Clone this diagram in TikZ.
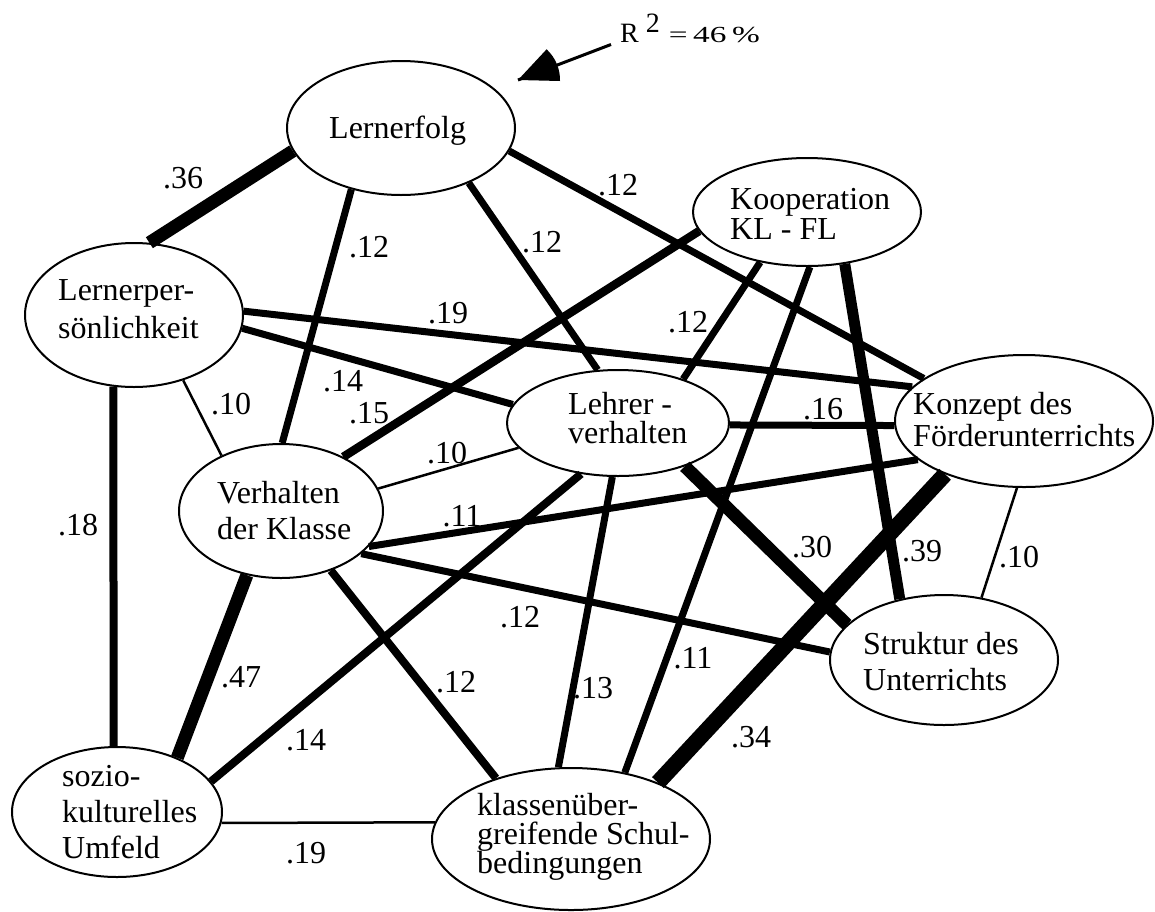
\documentclass[tikz,border=0pt]{standalone}
\usepackage{fontspec}
\usepackage{graphicx}
\setmainfont{Liberation Serif}
\usetikzlibrary{shapes.geometric}
\lineskiplimit=-50pt

\tikzset{
    var/.style={draw, ellipse, line width=2pt, inner sep=0pt},
    vartext/.style={font=\fontsize{32}{#1}\selectfont, align=left, inner sep=0pt, anchor=base west},
    weight/.style={font=\fontsize{32}{32}\selectfont, inner sep=0pt},
    weak/.style={line width=2.5pt},
    mid/.style={line width=7pt},
    strong/.style={line width=13pt},
}

\begin{document}
\begin{tikzpicture}[x=1pt, y=-1pt]
    \useasboundingbox (0,0) rectangle (1155,911);

    % ellipses
    \node[var, minimum width=228pt, minimum height=134pt] (erfolg) at (401,128) {};
    \node[var, minimum width=228pt, minimum height=108pt] (koop) at (807,212) {};
    \node[var, minimum width=218pt, minimum height=144pt] (pers) at (134,315) {};
    \node[var, minimum width=222pt, minimum height=106pt] (lehrer) at (618,423) {};
    \node[var, minimum width=258pt, minimum height=132pt] (konzept) at (1024,421) {};
    \node[var, minimum width=204pt, minimum height=134pt] (klasse) at (281,511) {};
    \node[var, minimum width=228pt, minimum height=130pt] (struktur) at (944,660) {};
    \node[var, minimum width=210pt, minimum height=130pt] (sozio) at (117,812) {};
    \node[var, minimum width=278pt, minimum height=142pt] (schul) at (571,839) {};

    % texts
    \node[vartext=32] (erfolg-t) at (329,138) {Lernerfolg};
    \node[vartext=30] (koop-t) at (730,239) {Kooperation\\KL - FL};
    \node[vartext=38] (pers-t) at (58,338) {Lernerper-\\sönlichkeit};
    \node[vartext=29] (lehrer-t) at (568,443) {Lehrer -\\verhalten};
    \node[vartext=32] (konzept-t) at (913,446) {Konzept des\\Förderunterrichts};
    \node[vartext=36] (klasse-t) at (217,539) {Verhalten\\der Klasse};
    \node[vartext=36] (struktur-t) at (863,690) {Struktur des\\Unterrichts};
    \node[vartext=36] (sozio-t) at (62,858) {sozio-\\kulturelles\\Umfeld};
    \node[vartext=29] (schul-t) at (477,873) {klassenüber-\\greifende Schul-\\bedingungen};

    % paths
    \draw[strong] (erfolg.-168) -- (pers.78);
    \draw[mid] (erfolg.-129) -- (klasse.89);
    \draw[mid] (erfolg.-39) -- (lehrer.111);
    \draw[mid] (erfolg.-12) -- (konzept.157);
    \draw[mid, line width=8.5pt] (koop.-170) -- (klasse.41);
    \draw[mid] (koop.-133) -- (lehrer.34);
    \draw[mid] (koop.-87) -- (schul.51);
    \draw[strong, line width=11pt] (koop.-54) -- (struktur.126);
    \draw[mid] (pers.2) -- (konzept.163);
    \draw[mid] (pers.-7) -- (lehrer.170);
    \draw[weak] (pers.-53) -- (klasse.137);
    \draw[mid, line width=8pt] (pers.-106) -- (sozio.93);
    \draw[weak] (lehrer.-166) -- (klasse.13);
    \draw[mid] (lehrer.-1) -- (konzept.-178);
    \draw[mid, line width=8pt] (lehrer.-126) -- (sozio.18);
    \draw[mid] (lehrer.-96) -- (schul.100);
    \draw[strong] (lehrer.-33) -- (struktur.160);
    \draw[mid] (konzept.-160) -- (klasse.-22);
    \draw[strong, line width=16pt] (konzept.-146) -- (schul.33);
    \draw[weak] (konzept.-96) -- (struktur.59);
    \draw[mid] (klasse.-28) -- (struktur.176);
    \draw[strong] (klasse.-118) -- (sozio.42);
    \draw[mid, line width=8pt] (klasse.-50) -- (schul.141);
    \draw[weak] (sozio.-6) -- (schul.173);

    % coefficients
    \node[weight] (w36) at (183,178) {.36};
    \node[weight] (w12a) at (369,247) {.12};
    \node[weight] (w12b) at (542,242) {.12};
    \node[weight] (w12c) at (618,185) {.12};
    \node[weight] (w15) at (369,413) {.15};
    \node[weight] (w12d) at (688,322) {.12};
    \node[weight] (w11a) at (693,658) {.11};
    \node[weight] (w39) at (922,551) {.39};
    \node[weight] (w19a) at (448,313) {.19};
    \node[weight] (w14a) at (343,381) {.14};
    \node[weight] (w10a) at (231,404) {.10};
    \node[weight] (w18) at (78,525) {.18};
    \node[weight] (w10b) at (447,453) {.10};
    \node[weight] (w16) at (823,409) {.16};
    \node[weight] (w14b) at (306,740) {.14};
    \node[weight] (w13) at (593,688) {.13};
    \node[weight] (w30) at (812,547) {.30};
    \node[weight] (w11b) at (462,516) {.11};
    \node[weight] (w34) at (751,737) {.34};
    \node[weight] (w10c) at (1019,557) {.10};
    \node[weight] (w12e) at (520,617) {.12};
    \node[weight] (w47) at (241,677) {.47};
    \node[weight] (w12f) at (456,682) {.12};
    \node[weight] (w19b) at (306,853) {.19};

    % R^2
    \node[anchor=base west, inner sep=0pt, font=\fontsize{28}{28}\selectfont] (r2) at (620,42)
        {R\hspace{7pt}\raisebox{10pt}{2}\hspace{9pt}\scalebox{1.45}[1]{\fontsize{23}{23}\selectfont=\,46\,\%}};
    \coordinate (r2tip) at (518,80);
    \draw[line width=3pt] ([xshift=-9pt, yshift=-2pt]r2.south west) -- (r2tip);
    \fill (r2tip) -- (546.6,49.3) .. controls (555.4,57.5) and (560.3,69) .. (560,81) -- cycle;
\end{tikzpicture}
\end{document}
